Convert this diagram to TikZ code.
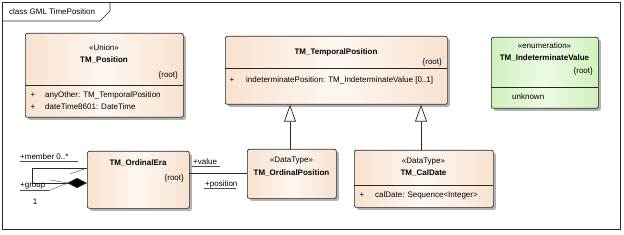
\documentclass[tikz,border=0pt]{standalone}
\usepackage{fontspec}
\setmainfont{Liberation Sans}
\usetikzlibrary{arrows.meta,shadows,calc}
\definecolor{peach}{RGB}{248,226,208}
\definecolor{peachlight}{RGB}{254,247,241}
\definecolor{mint}{RGB}{208,240,190}
\definecolor{mintlight}{RGB}{238,251,230}
\definecolor{edge}{RGB}{40,40,40}
\tikzset{
  umlbox/.style={draw=edge, line width=0.7pt, rounded corners=2pt, anchor=north west, inner sep=0pt,
    left color=peach, right color=peach, middle color=peachlight,
    drop shadow={shadow xshift=2.5pt, shadow yshift=-2.5pt, fill=black!30, opacity=1}},
  enumbox/.style={umlbox, left color=mint, right color=mint, middle color=mintlight},
  txt/.style={inner sep=0pt, font=\fontsize{8}{9}\selectfont},
  bold/.style={txt, font=\fontsize{8}{9}\selectfont\bfseries},
  divider/.style={draw=edge, line width=0.5pt},
  gen/.style={draw=edge, line width=0.7pt, -{Triangle[length=17pt,width=12pt,fill=peachlight]}},
  assoc/.style={draw=edge, line width=0.7pt},
  leader/.style={draw=black!70, line width=0.4pt},
}
\begin{document}
\begin{tikzpicture}[x=1pt,y=-1pt]
\useasboundingbox (0,0) rectangle (624,235);
% frame
\node[draw=edge, line width=0.8pt, anchor=north west, minimum width=618pt, minimum height=227pt, inner sep=0pt] (frame) at (2,2) {};
\draw[edge, line width=0.7pt] (2,21) -- (100,21) -- (110,11) -- (110,2);
\node[txt, anchor=west] (framelabel) at (9,11.5) {class GML TimePosition};

% TM_Position
\node[umlbox, minimum width=158pt, minimum height=84pt] (pos) at (25,33) {};
\draw[divider] (25,85) -- (183,85);
\node[txt] (posst) at (104,48) {«Union»};
\node[bold] (posname) at (104,60) {TM\_Position};
\node[txt, anchor=east] (posroot) at (178,75) {\{root\}};
\node[txt] (pa1p) at (33,95) {+};
\node[txt, anchor=west] (pa1) at (45,95) {anyOther: TM\_TemporalPosition};
\node[txt] (pa2p) at (33,107) {+};
\node[txt, anchor=west] (pa2) at (45,107) {dateTime8601: DateTime};

% TM_TemporalPosition
\node[umlbox, minimum width=222pt, minimum height=68pt] (temp) at (225,36) {};
\draw[divider] (225,68) -- (447,68);
\node[bold] (tempname) at (336,52) {TM\_TemporalPosition};
\node[txt, anchor=east] (temproot) at (442,62) {\{root\}};
\node[txt] (ta1p) at (232,80) {+};
\node[txt, anchor=west] (ta1) at (246,80) {indeterminatePosition: TM\_IndeterminateValue [0..1]};

% TM_IndeterminateValue
\node[enumbox, minimum width=107pt, minimum height=71pt] (ind) at (491,37) {};
\draw[divider] (491,87) -- (598,87);
\node[txt] (indst) at (544.5,46) {«enumeration»};
\node[bold] (indname) at (544.5,58) {TM\_IndeterminateValue};
\node[txt, anchor=east] (indroot) at (593,71) {\{root\}};
\node[txt, anchor=west] (indv) at (512,97) {unknown};

% TM_OrdinalEra
\node[umlbox, minimum width=102pt, minimum height=57pt] (era) at (87,151) {};
\node[bold] (eraname) at (138,163) {TM\_OrdinalEra};
\node[txt, anchor=east] (eraroot) at (184,178) {\{root\}};

% TM_OrdinalPosition
\node[umlbox, minimum width=89pt, minimum height=49pt] (opos) at (247,149) {};
\node[txt] (oposst) at (291.5,161) {«DataType»};
\node[bold] (oposname) at (291.5,173) {TM\_OrdinalPosition};

% TM_CalDate
\node[umlbox, minimum width=139pt, minimum height=57pt] (cal) at (354,150) {};
\draw[divider] (354,185) -- (493,185);
\node[txt] (calst) at (423.5,162) {«DataType»};
\node[bold] (calname) at (423.5,173) {TM\_CalDate};
\node[txt] (ca1p) at (362,195) {+};
\node[txt, anchor=west] (ca1) at (375,195) {calDate: Sequence<Integer>};

% generalizations
\coordinate (g1s) at ($(opos.north west)+(43,0)$);
\coordinate (g1e) at (g1s |- temp.south);
\draw[gen] (g1s) -- (g1e);
\coordinate (g2s) at ($(cal.north west)+(67,0)$);
\coordinate (g2e) at (g2s |- temp.south);
\draw[gen] (g2s) -- (g2e);

% association era -- ordinal position
\coordinate (a1) at ($(era.north west)+(102,22)$);
\coordinate (a2) at (a1 -| opos.west);
\draw[assoc] (a1) -- (a2);
\node[txt, anchor=west] (lvalue) at (193,162) {+value};
\draw[leader] (192,166) -- (220,166);
\node[txt, anchor=west] (lpos) at (205,184) {+position};
\draw[leader] (204,188) -- (236,188);

% self association (composition)
\coordinate (s1) at ($(era.north west)+(0,17)$);
\coordinate (s2) at ($(era.north west)+(0,32)$);
\coordinate (c1) at (32,168);
\coordinate (c2) at (32,183);
\draw[assoc, -{Diamond[length=20pt,width=10pt,fill=black]}] (s1) -- (c1) -- (c2) -- (s2);
\node[txt, anchor=west] (lmember) at (20,157) {+member 0..*};
\draw[leader] (20,161) -- (78,161);
\draw[leader] (70,174) -- (s1);
\node[txt, anchor=west] (lgroup) at (20,186.5) {+group};
\draw[leader] (20,190.5) -- (49,190.5);
\draw[leader] (49,190.5) -- (68,183);
\draw[leader] (50,180) -- (68,183);
\node[txt] (lone) at (35,202) {1};
\end{tikzpicture}
\end{document}
